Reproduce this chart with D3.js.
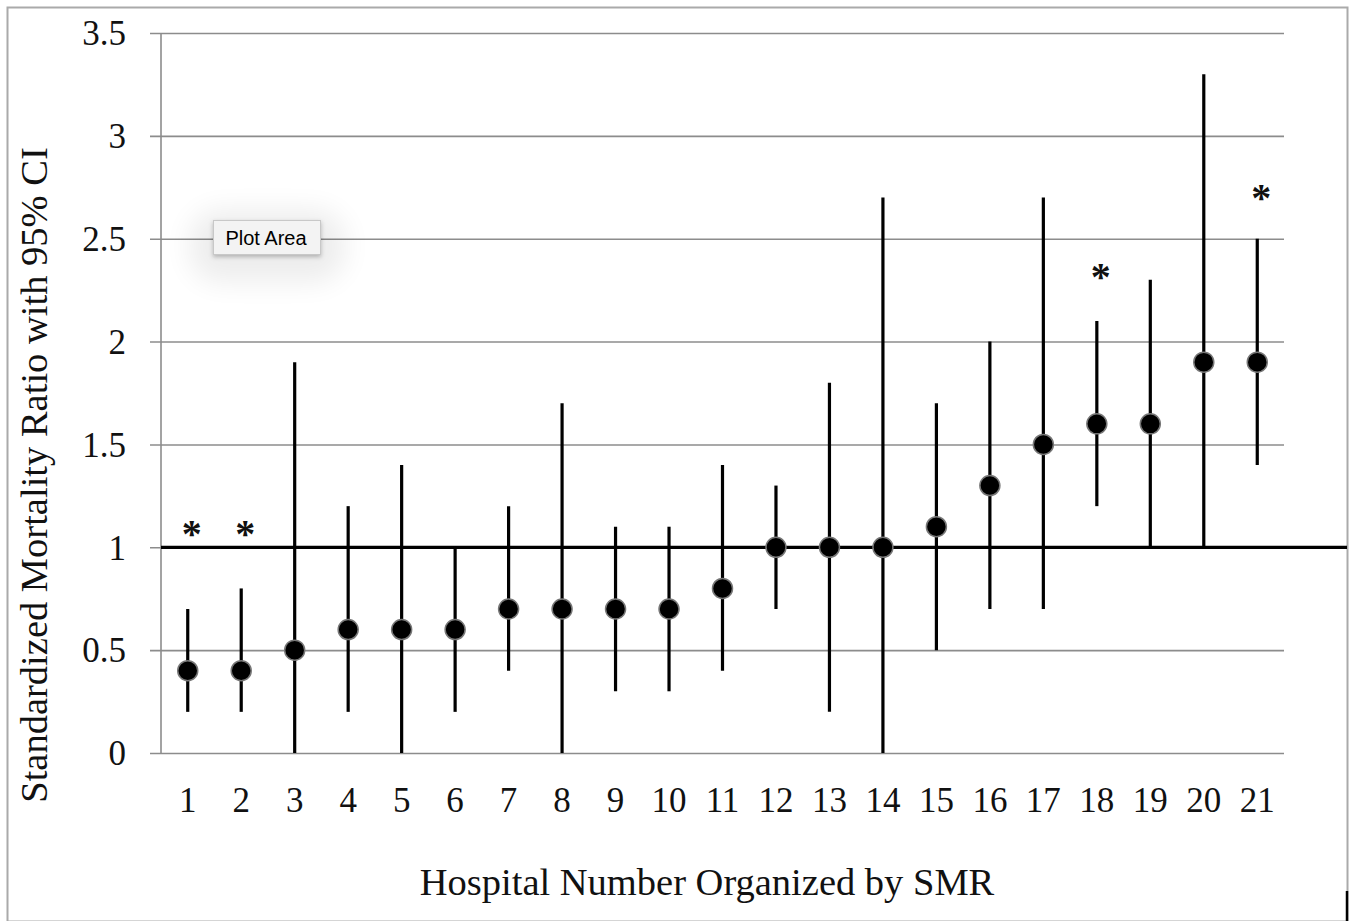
<!DOCTYPE html>
<html><head><meta charset="utf-8">
<script src="https://cdn.jsdelivr.net/npm/d3@7"></script>
<style>body{margin:0;background:#fff;} svg{display:block;}</style>
</head><body>
<script>
const hospitals = ["1","2","3","4","5","6","7","8","9","10","11","12","13","14","15","16","17","18","19","20","21"];
const smr   = [0.4,0.4,0.5,0.6,0.6,0.6,0.7,0.7,0.7,0.7,0.8,1.0,1.0,1.0,1.1,1.3,1.5,1.6,1.6,1.9,1.9];
const lower = [0.2,0.2,0.0,0.2,0.0,0.2,0.4,0.0,0.3,0.3,0.4,0.7,0.2,0.0,0.5,0.7,0.7,1.2,1.0,1.0,1.4];
const upper = [0.7,0.8,1.9,1.2,1.4,1.0,1.2,1.7,1.1,1.1,1.4,1.3,1.8,2.7,1.7,2.0,2.7,2.1,2.3,3.3,2.5];
const starHospitals = ["1","2","18","21"];
const starLevel = [1.1,1.1,2.35,2.73];
const yTicks = [0,0.5,1,1.5,2,2.5,3,3.5];
const yTickLabels = ["0","0.5","1","1.5","2","2.5","3","3.5"];

const W = 1357, H = 921;
const svg = d3.select("body").append("svg").attr("width", W).attr("height", H);
const defs = svg.append("defs");
const f = defs.append("filter").attr("id","glow").attr("x","-60%").attr("y","-150%").attr("width","220%").attr("height","400%");
f.append("feGaussianBlur").attr("stdDeviation", 14);
const f2 = defs.append("filter").attr("id","sh").attr("x","-20%").attr("y","-40%").attr("width","140%").attr("height","200%");
f2.append("feDropShadow").attr("dx",0).attr("dy",2).attr("stdDeviation",2).attr("flood-color","#000").attr("flood-opacity",0.25);

// outer border
svg.append("rect").attr("x",7.5).attr("y",7.5).attr("width",1340).attr("height",914)
  .attr("fill","#fff").attr("stroke","#aaa").attr("stroke-width",2);

const x = d3.scaleBand().domain(hospitals).range([161, 1284]).padding(0);
const y = d3.scaleLinear().domain([0, 3.5]).range([753, 33]);
const cx = d => x(d) + x.bandwidth()/2;

// gridlines via axis
const yAxis = d3.axisLeft(y).tickValues(yTicks).tickSize(-(1284-150)).tickFormat("");
const gy = svg.append("g").attr("transform","translate(150,0)").call(yAxis);
gy.select(".domain").remove();
gy.selectAll(".tick line").attr("stroke","#8c8c8c").attr("stroke-width",1.6).attr("x1",0).attr("x2",1284-150);
// y axis line
svg.append("line").attr("x1",161).attr("x2",161).attr("y1",y(3.5)).attr("y2",y(0)).attr("stroke","#8c8c8c").attr("stroke-width",1.6);

// y tick labels
svg.append("g").selectAll("text").data(yTicks).join("text")
  .attr("x",126).attr("y",d=>y(d)).attr("dy","0.35em").attr("text-anchor","end")
  .attr("font-family","'Liberation Serif', 'DejaVu Serif', serif").attr("font-size",35).attr("fill","#111")
  .text((d,i)=>yTickLabels[i]);

// x tick labels
const xAxis = d3.axisBottom(x).tickSize(0).tickPadding(0);
const gx = svg.append("g").attr("transform","translate(0,812)").call(xAxis);
gx.select(".domain").remove();
gx.selectAll(".tick text").attr("dy",0).attr("y",0)
  .attr("font-family","'Liberation Serif', 'DejaVu Serif', serif").attr("font-size",35).attr("fill","#111");

// reference line at 1
svg.append("line").attr("x1",161).attr("x2",1347).attr("y1",y(1)).attr("y2",y(1)).attr("stroke","#000").attr("stroke-width",3.2);

// error bars
svg.append("g").selectAll("line").data(hospitals).join("line")
  .attr("x1",d=>cx(d)).attr("x2",d=>cx(d))
  .attr("y1",(d,i)=>y(lower[i])).attr("y2",(d,i)=>y(upper[i]))
  .attr("stroke","#000").attr("stroke-width",3.2);

// points
svg.append("g").selectAll("circle").data(hospitals).join("circle")
  .attr("cx",d=>cx(d)).attr("cy",(d,i)=>y(smr[i])).attr("r",10)
  .attr("fill","#000").attr("stroke","#777").attr("stroke-width",1.5);

// asterisks
svg.append("g").selectAll("text").data(starHospitals).join("text")
  .attr("x",d=>cx(d)+4).attr("y",(d,i)=>y(starLevel[i])).attr("dy","0.5em").attr("text-anchor","middle")
  .attr("font-family","'Liberation Serif', serif").attr("font-size",40).attr("font-weight","bold").attr("fill","#111")
  .text("*");

// axis titles
svg.append("text").attr("x",707).attr("y",895).attr("text-anchor","middle")
  .attr("font-family","'Liberation Serif', 'DejaVu Serif', serif").attr("font-size",38.5).attr("fill","#111")
  .text("Hospital Number Organized by SMR");
svg.append("text").attr("transform","translate(47,475) rotate(-90)").attr("text-anchor","middle")
  .attr("font-family","'Liberation Serif', 'DejaVu Serif', serif").attr("font-size",38.5).attr("fill","#111")
  .text("Standardized Mortality Ratio with 95% CI");

// "Plot Area" tooltip
svg.append("rect").attr("x",190).attr("y",210).attr("width",155).attr("height",72).attr("rx",30)
  .attr("fill","#000").attr("opacity",0.07).attr("filter","url(#glow)");
svg.append("rect").attr("x",213.5).attr("y",220.5).attr("width",107).attr("height",34)
  .attr("fill","#f3f3f3").attr("stroke","#c8c8c8").attr("stroke-width",1).attr("filter","url(#sh)");
svg.append("text").attr("x",266).attr("y",245).attr("text-anchor","middle")
  .attr("font-family","'Liberation Sans', Arial, sans-serif").attr("font-size",20).attr("fill","#000")
  .text("Plot Area");

// small black mark bottom right
svg.append("line").attr("x1",1347).attr("x2",1347).attr("y1",891).attr("y2",921).attr("stroke","#000").attr("stroke-width",2.5);
</script>
</body></html>
